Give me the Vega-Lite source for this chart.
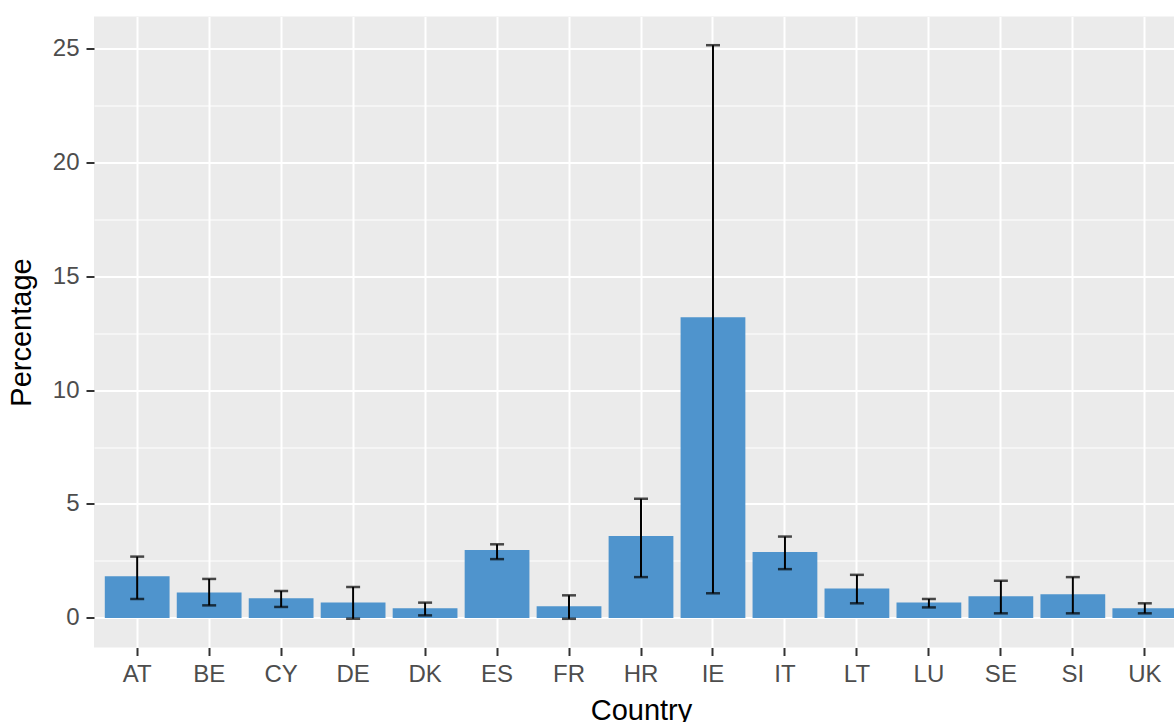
{
  "$schema": "https://vega.github.io/schema/vega-lite/v6.json",
  "autosize": {"type": "none"},
  "padding": {"left": 94, "top": 16.5, "right": 0, "bottom": 75},
  "width": 1094,
  "height": 631,
  "background": "white",
  "config": {
    "view": {"fill": "#EBEBEB", "stroke": null},
    "font": "Liberation Sans"
  },
  "data": {
    "values": [
      {"Country": "AT", "Percentage": 1.83, "lower": 0.83, "upper": 2.69},
      {"Country": "BE", "Percentage": 1.11, "lower": 0.55, "upper": 1.71},
      {"Country": "CY", "Percentage": 0.86, "lower": 0.48, "upper": 1.18},
      {"Country": "DE", "Percentage": 0.67, "lower": -0.04, "upper": 1.36},
      {"Country": "DK", "Percentage": 0.42, "lower": 0.11, "upper": 0.67},
      {"Country": "ES", "Percentage": 2.98, "lower": 2.58, "upper": 3.23},
      {"Country": "FR", "Percentage": 0.51, "lower": -0.04, "upper": 0.99},
      {"Country": "HR", "Percentage": 3.6, "lower": 1.79, "upper": 5.23},
      {"Country": "IE", "Percentage": 13.2, "lower": 1.08, "upper": 25.14},
      {"Country": "IT", "Percentage": 2.89, "lower": 2.14, "upper": 3.57},
      {"Country": "LT", "Percentage": 1.29, "lower": 0.64, "upper": 1.89},
      {"Country": "LU", "Percentage": 0.67, "lower": 0.46, "upper": 0.83},
      {"Country": "SE", "Percentage": 0.95, "lower": 0.2, "upper": 1.63},
      {"Country": "SI", "Percentage": 1.04, "lower": 0.2, "upper": 1.79},
      {"Country": "UK", "Percentage": 0.42, "lower": 0.2, "upper": 0.64}
    ]
  },
  "encoding": {
    "x": {
      "field": "Country",
      "type": "nominal",
      "sort": null,
      "scale": {"paddingInner": 0.1, "paddingOuter": 0.15},
      "axis": {
        "title": "Country",
        "labelAngle": 0,
        "bandPosition": 0.5,
        "grid": true,
        "gridColor": "white",
        "gridWidth": 2,
        "domain": false,
        "tickColor": "#333333",
        "tickWidth": 2,
        "tickSize": 8,
        "labelPadding": 7,
        "labelFontSize": 24,
        "labelColor": "#4D4D4D",
        "titleFontSize": 29,
        "titleFontWeight": "normal",
        "titleColor": "black",
        "titlePadding": 10
      }
    }
  },
  "layer": [
    {
      "mark": {"type": "bar", "color": "#4F94CD"},
      "encoding": {
        "y": {
          "field": "Percentage",
          "type": "quantitative",
          "scale": {"domain": [-1.3, 26.4], "nice": false, "zero": false},
          "axis": {
            "title": "Percentage",
            "values": [0, 2.5, 5, 7.5, 10, 12.5, 15, 17.5, 20, 22.5, 25],
            "labelExpr": "datum.value % 5 === 0 ? datum.label : ''",
            "grid": true,
            "gridColor": "white",
            "gridWidth": {"condition": {"test": "datum.value % 5 !== 0", "value": 1}, "value": 2},
            "tickOpacity": {"condition": {"test": "datum.value % 5 !== 0", "value": 0}, "value": 1},
            "domain": false,
            "tickColor": "#333333",
            "tickWidth": 2,
            "tickSize": 8,
            "labelPadding": 7,
            "labelFontSize": 24,
            "labelColor": "#4D4D4D",
            "titleFontSize": 29,
            "titleFontWeight": "normal",
            "titleColor": "black",
            "titlePadding": 16
          }
        }
      }
    },
    {
      "mark": {"type": "rule", "color": "black", "strokeWidth": 2},
      "encoding": {
        "y": {"field": "lower", "type": "quantitative"},
        "y2": {"field": "upper"}
      }
    },
    {
      "mark": {"type": "tick", "color": "black", "thickness": 2.5, "size": 14},
      "encoding": {
        "y": {"field": "lower", "type": "quantitative"}
      }
    },
    {
      "mark": {"type": "tick", "color": "black", "thickness": 2.5, "size": 14},
      "encoding": {
        "y": {"field": "upper", "type": "quantitative"}
      }
    }
  ]
}
